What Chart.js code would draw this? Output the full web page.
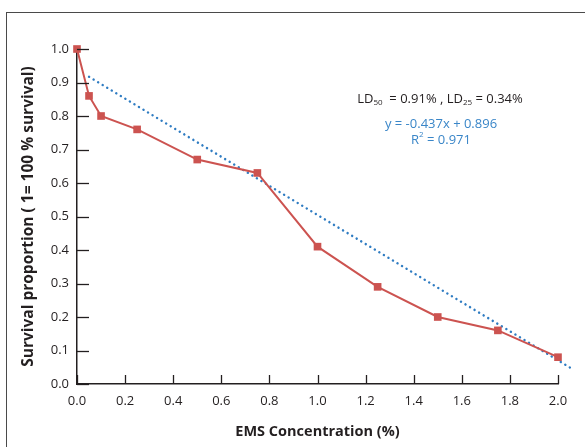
<!DOCTYPE html>
<html>
<head>
<meta charset="utf-8">
<script src="https://cdn.jsdelivr.net/npm/chart.js@4/dist/chart.umd.min.js"></script>
<style>
  html, body { margin: 0; padding: 0; background: #fff; }
  #wrap { position: relative; width: 585px; height: 447px; overflow: hidden; }
  #frame { position: absolute; left: 6px; top: 12px; width: 700px; height: 600px;
           border-left: 1.5px solid #4a4a4a; border-top: 1.5px solid #4a4a4a; }
  canvas { position: absolute; left: 0; top: 0; }
</style>
</head>
<body>
<div id="wrap">
  <div id="frame"></div>
  <canvas id="c" width="585" height="447"></canvas>
</div>
<script>
const concentrations = [0, 0.05, 0.1, 0.25, 0.5, 0.75, 1.0, 1.25, 1.5, 1.75, 2.0];
const survival = [1.0, 0.86, 0.80, 0.76, 0.67, 0.63, 0.41, 0.29, 0.20, 0.16, 0.08];
const trendX = [0.05, 2.05];
const trendY = [0.917, 0.049];
const xTitle = 'EMS Concentration (%)';
const yTitle = 'Survival proportion ( 1= 100 % survival)';
const equationText = 'y = -0.437x + 0.896';
const r2Value = '0.971';
const ld50 = '0.91%';
const ld25 = '0.34%';

const FONT = "'Open Sans', 'Noto Sans', sans-serif";
const INK = '#231f20';

const tickPlugin = {
  id: 'innerTicks',
  afterDatasetsDraw(chart) {
    const {ctx, chartArea: a, scales: {x, y}} = chart;
    ctx.save();
    ctx.strokeStyle = INK;
    ctx.lineWidth = 1.3;
    y.ticks.forEach(t => {
      const py = Math.round(y.getPixelForValue(t.value)) + 0.5;
      ctx.beginPath(); ctx.moveTo(a.left, py); ctx.lineTo(a.left + 12, py); ctx.stroke();
    });
    x.ticks.forEach(t => {
      const px = Math.round(x.getPixelForValue(t.value)) + 0.5;
      ctx.beginPath(); ctx.moveTo(px, a.bottom); ctx.lineTo(px, a.bottom - 9); ctx.stroke();
    });
    // annotation text
    ctx.textBaseline = 'middle';
    const big = '13px ' + FONT, small = '8px ' + FONT;
    const parts = [
      ['LD', big, 0], ['50', small, 4], ['  = ' + ld50 + ' , LD', big, 0], ['25', small, 4], [' = ' + ld25, big, 0]
    ];
    let total = 0;
    parts.forEach(p => { ctx.font = p[1]; total += ctx.measureText(p[0]).width; });
    let cx = 440 - total / 2;
    ctx.fillStyle = INK;
    ctx.textAlign = 'left';
    parts.forEach(p => { ctx.font = p[1]; ctx.fillText(p[0], cx, 99 + p[2]); cx += ctx.measureText(p[0]).width; });
    ctx.fillStyle = '#3a86c8';
    ctx.font = big;
    ctx.textAlign = 'center';
    ctx.fillText(equationText, 441, 124);
    // R^2 line
    const rParts = [['R', big, 0], ['2', small, -5], [' = ' + r2Value, big, 0]];
    total = 0;
    rParts.forEach(p => { ctx.font = p[1]; total += ctx.measureText(p[0]).width; });
    cx = 441 - total / 2;
    ctx.textAlign = 'left';
    rParts.forEach(p => { ctx.font = p[1]; ctx.fillText(p[0], cx, 140 + p[2]); cx += ctx.measureText(p[0]).width; });
    ctx.restore();
  }
};

new Chart(document.getElementById('c'), {
  type: 'scatter',
  data: {
    datasets: [
      {
        label: 'Trend',
        data: trendX.map((v, i) => ({x: v, y: trendY[i]})),
        showLine: true,
        borderColor: '#2f7cc2',
        borderWidth: 2.4,
        borderDash: [0.1, 5.2],
        borderCapStyle: 'round',
        pointRadius: 0,
        clip: false,
        order: 2
      },
      {
        label: 'Survival',
        data: concentrations.map((v, i) => ({x: v, y: survival[i]})),
        showLine: true,
        borderColor: '#cc5350',
        borderWidth: 2,
        pointStyle: 'rect',
        pointRadius: 5.4,
        pointBackgroundColor: '#cc5350',
        pointBorderColor: '#cc5350',
        pointBorderWidth: 0,
        clip: false,
        order: 1
      }
    ]
  },
  options: {
    responsive: false,
    animation: false,
    devicePixelRatio: 1,
    layout: { padding: { left: 0, right: 27, top: 49, bottom: 0 } },
    plugins: { legend: { display: false }, tooltip: { enabled: false } },
    scales: {
      x: {
        type: 'linear', min: 0, max: 2,
        grid: { display: false, drawTicks: false },
        border: { display: true, color: INK, width: 1.5 },
        ticks: { stepSize: 0.2, padding: 9, color: INK, font: { family: FONT, size: 13 },
                 callback: v => Number(v).toFixed(1), maxRotation: 0 },
        title: { display: true, text: xTitle, color: INK, font: { family: FONT, size: 14.5, weight: 'bold' },
                 padding: { top: 0, bottom: 6 } },
        afterFit: s => { s.height = 63; }
      },
      y: {
        type: 'linear', min: 0, max: 1,
        grid: { display: false, drawTicks: false },
        border: { display: true, color: INK, width: 1.5 },
        ticks: { stepSize: 0.1, padding: 8, color: INK, font: { family: FONT, size: 13 },
                 callback: v => Number(v).toFixed(1) },
        title: { display: true, text: yTitle, color: INK, font: { family: FONT, size: 15.5, weight: 'bold' },
                 padding: { top: 19, bottom: 0 } },
        afterFit: s => { s.width = 77; }
      }
    }
  },
  plugins: [tickPlugin]
});
</script>
</body>
</html>
